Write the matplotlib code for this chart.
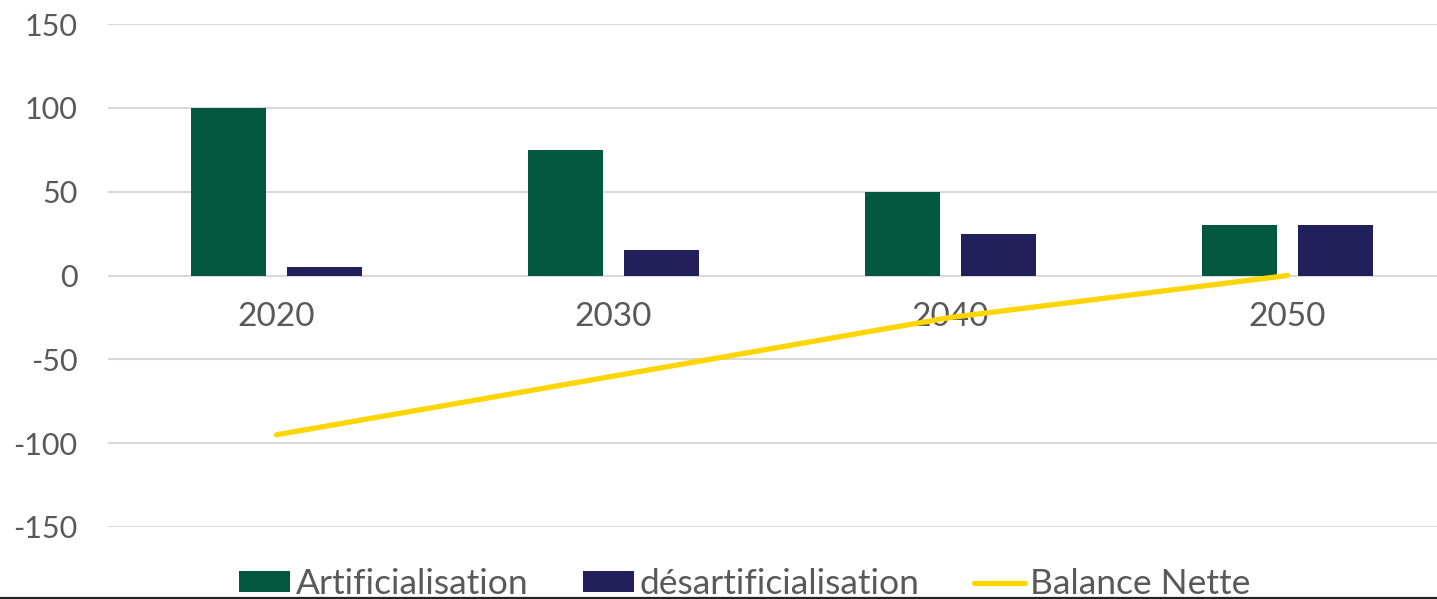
import matplotlib
matplotlib.use("Agg")
import matplotlib.pyplot as plt
from matplotlib.lines import Line2D
import numpy as np

years = ["2020", "2030", "2040", "2050"]
artificialisation = [100, 75, 50, 30]
desartificialisation = [5, 15, 25, 30]
balance_nette = [-95, -60, -25, 0]
y_ticks = [-150, -100, -50, 0, 50, 100, 150]

W, H = 1437, 599
fig = plt.figure(figsize=(W / 100, H / 100), dpi=100)
plt.rcParams['font.family'] = ['Lato', 'DejaVu Sans']
ax = fig.add_axes([108 / W, (H - 527) / H, 1348 / W, 503 / H])

green = "#02583f"
navy = "#22205a"
yellow = "#ffd500"
textc = "#595959"

x = np.arange(len(years))
bw = 0.2226
off = 0.142
b1 = ax.bar(x - off, artificialisation, bw, color=green, label="Artificialisation", zorder=3)
b2 = ax.bar(x + off, desartificialisation, bw, color=navy, label="désartificialisation", zorder=3)
l1, = ax.plot(x, balance_nette, color=yellow, lw=3.8, solid_capstyle='round', label="Balance Nette", zorder=4)

ax.set_xlim(-0.5, 3.5)
ax.set_ylim(-150, 150)
ax.set_yticks(y_ticks)
ax.set_yticklabels([str(v) for v in y_ticks])
ax.yaxis.grid(True, color="#d9d9d9", lw=1.5, zorder=0)
ax.set_axisbelow(True)
ax.tick_params(axis='y', length=0, pad=22, labelsize=22, labelcolor=textc)
ax.set_xticks([])
for s in ax.spines.values():
    s.set_visible(False)
ax.axhline(0, color="#d9d9d9", lw=1.5, zorder=1)

for i, yr in enumerate(years):
    ax.annotate(yr, (i, 0), xytext=(0, -30), textcoords='offset points',
                ha='center', va='center', fontsize=24, color=textc, zorder=2)

leg = fig.legend([b1, b2, l1], ["Artificialisation", "désartificialisation", "Balance Nette"],
                 loc='center', bbox_to_anchor=(745 / W, (H - 584) / H), ncol=3,
                 frameon=False, fontsize=25.5, handlelength=1.44, handleheight=0.5,
                 handletextpad=0.15, columnspacing=1.55, borderaxespad=0, borderpad=0)
for t in leg.get_texts():
    t.set_color(textc)

fig.add_artist(Line2D([0, 1], [1.5 / H, 1.5 / H], color="#222222", lw=1.6,
                      transform=fig.transFigure, zorder=10))

fig.savefig("out.png", dpi=100)
